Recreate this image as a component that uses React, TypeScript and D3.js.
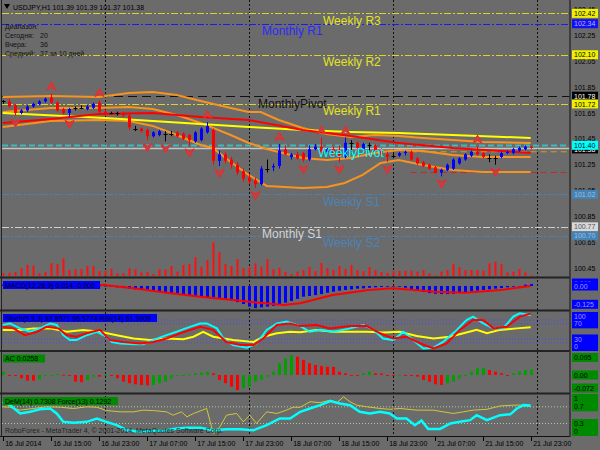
import * as d3 from 'd3'

// ---- time axis ----
const timeTicks: [number, string][] = [
  [0, '16 Jul 2014'], [8, '16 Jul 15:00'], [16, '16 Jul 23:00'], [24, '17 Jul 07:00'],
  [32, '17 Jul 15:00'], [40, '17 Jul 23:00'], [48, '18 Jul 07:00'], [56, '18 Jul 15:00'],
  [64, '18 Jul 23:00'], [72, '21 Jul 07:00'], [80, '21 Jul 15:00'], [88, '21 Jul 23:00'],
]
const daySeparators = [17, 41, 65, 89]
const priceTicks = [102.45, 102.25, 102.05, 101.85, 101.65, 101.45, 101.25, 101.05, 100.85, 100.65, 100.45]

// ---- USDJPY H1 candles ----
const open = [
  101.74, 101.74, 101.71, 101.65, 101.67, 101.70, 101.72, 101.74, 101.77, 101.73,
  101.68, 101.65, 101.69, 101.69, 101.68, 101.69, 101.73, 101.66, 101.65, 101.65,
  101.65, 101.63, 101.53, 101.53, 101.52, 101.47, 101.48, 101.49, 101.49, 101.50,
  101.49, 101.48, 101.43, 101.44, 101.50, 101.52, 101.28, 101.33, 101.29, 101.25,
  101.20, 101.15, 101.13, 101.10, 101.22, 101.23, 101.24, 101.37, 101.31, 101.33,
  101.34, 101.29, 101.37, 101.39, 101.35, 101.37, 101.34, 101.31, 101.42, 101.42,
  101.37, 101.40, 101.40, 101.36, 101.33, 101.32, 101.32, 101.34, 101.35, 101.30,
  101.27, 101.25, 101.23, 101.19, 101.21, 101.22, 101.26, 101.29, 101.32, 101.35,
  101.34, 101.30, 101.30, 101.31, 101.34, 101.34, 101.36, 101.37, 101.39,
]
const high = [
  101.75, 101.76, 101.72, 101.68, 101.71, 101.73, 101.75, 101.77, 101.80, 101.74,
  101.69, 101.69, 101.70, 101.71, 101.71, 101.73, 101.75, 101.67, 101.66, 101.66,
  101.66, 101.64, 101.55, 101.54, 101.53, 101.51, 101.52, 101.51, 101.51, 101.51,
  101.50, 101.49, 101.51, 101.54, 101.58, 101.53, 101.36, 101.35, 101.31, 101.27,
  101.22, 101.18, 101.15, 101.24, 101.29, 101.26, 101.41, 101.40, 101.34, 101.35,
  101.35, 101.40, 101.41, 101.46, 101.38, 101.39, 101.40, 101.46, 101.44, 101.43,
  101.42, 101.42, 101.41, 101.38, 101.35, 101.34, 101.35, 101.36, 101.36, 101.31,
  101.28, 101.26, 101.24, 101.22, 101.26, 101.30, 101.31, 101.34, 101.36, 101.39,
  101.35, 101.33, 101.32, 101.35, 101.36, 101.38, 101.39, 101.40, 101.39,
]
const low = [
  101.72, 101.69, 101.63, 101.64, 101.66, 101.69, 101.71, 101.73, 101.72, 101.66,
  101.64, 101.62, 101.67, 101.68, 101.67, 101.68, 101.65, 101.63, 101.64, 101.63,
  101.62, 101.52, 101.51, 101.50, 101.44, 101.46, 101.47, 101.43, 101.47, 101.46,
  101.44, 101.40, 101.42, 101.43, 101.49, 101.25, 101.24, 101.26, 101.22, 101.17,
  101.12, 101.10, 101.07, 101.09, 101.19, 101.20, 101.22, 101.32, 101.29, 101.29,
  101.27, 101.28, 101.36, 101.34, 101.33, 101.33, 101.27, 101.30, 101.35, 101.37,
  101.36, 101.36, 101.35, 101.32, 101.27, 101.30, 101.31, 101.32, 101.28, 101.25,
  101.23, 101.21, 101.18, 101.16, 101.20, 101.21, 101.25, 101.28, 101.31, 101.32,
  101.30, 101.27, 101.25, 101.30, 101.33, 101.33, 101.35, 101.36, 101.37,
]
const close = [
  101.74, 101.70, 101.65, 101.67, 101.70, 101.72, 101.74, 101.76, 101.73, 101.67,
  101.65, 101.68, 101.69, 101.69, 101.70, 101.72, 101.66, 101.64, 101.65, 101.65,
  101.63, 101.54, 101.53, 101.51, 101.47, 101.50, 101.51, 101.49, 101.49, 101.47,
  101.45, 101.44, 101.50, 101.53, 101.55, 101.28, 101.33, 101.28, 101.25, 101.19,
  101.14, 101.12, 101.10, 101.22, 101.22, 101.24, 101.36, 101.33, 101.33, 101.30,
  101.29, 101.37, 101.39, 101.35, 101.37, 101.34, 101.31, 101.42, 101.42, 101.38,
  101.41, 101.40, 101.36, 101.33, 101.31, 101.32, 101.34, 101.35, 101.29, 101.26,
  101.24, 101.22, 101.19, 101.21, 101.25, 101.29, 101.30, 101.33, 101.35, 101.33,
  101.31, 101.30, 101.30, 101.34, 101.35, 101.37, 101.38, 101.39, 101.38,
]
const tickVolume = [
  270, 330, 430, 770, 1100, 1030, 270, 430, 1270, 1200,
  1770, 600, 670, 670, 1000, 1000, 500, 500, 730, 270,
  270, 770, 670, 370, 430, 200, 670, 670, 1000, 430,
  1100, 1200, 1870, 930, 1600, 3370, 2400, 1200, 1000, 1670,
  770, 870, 1270, 930, 1670, 670, 830, 430, 200, 430,
  600, 900, 500, 1300, 800, 600, 1000, 700, 1100, 600,
  500, 900, 600, 400, 300, 500, 500, 530, 530, 430,
  600, 270, 100, 430, 600, 1200, 870, 600, 600, 600,
  530, 1270, 1430, 1170, 370, 430, 700, 370, 100,
]
const upFractals = [8, 16, 34, 46, 53, 57, 79]
const downFractals = [2, 11, 24, 27, 31, 36, 42, 50, 56, 64, 73, 82]

// ---- main chart indicator lines [bar, price] ----
const yellowMA = [[0, 101.650], [17, 101.611], [33, 101.565], [41, 101.542], [50, 101.519], [58, 101.503], [66, 101.495], [75, 101.480], [88, 101.457]]
const redMA = [[0, 101.573], [8, 101.604], [16, 101.642], [25, 101.650], [33, 101.619], [41, 101.596], [50, 101.519], [58, 101.472], [66, 101.418], [75, 101.380], [88, 101.341]]
const bandUpper = [[0, 101.773], [8, 101.781], [16, 101.773], [21, 101.804], [25, 101.812], [29, 101.789], [33, 101.742], [38, 101.688], [41, 101.657], [43, 101.657], [46, 101.596], [50, 101.534], [54, 101.488], [58, 101.465], [62, 101.480], [66, 101.472], [70, 101.457], [75, 101.441], [80, 101.426], [88, 101.418]]
const bandMiddle = [[0, 101.657], [8, 101.688], [16, 101.688], [21, 101.696], [25, 101.681], [29, 101.634], [33, 101.573], [38, 101.480], [41, 101.418], [44, 101.372], [50, 101.302], [54, 101.287], [58, 101.302], [62, 101.341], [66, 101.364], [70, 101.356], [75, 101.325], [80, 101.310], [88, 101.310]]
const bandLower = [[0, 101.542], [8, 101.588], [16, 101.596], [21, 101.588], [25, 101.550], [29, 101.480], [33, 101.403], [35, 101.380], [38, 101.271], [41, 101.171], [44, 101.086], [50, 101.071], [54, 101.078], [57, 101.109], [60, 101.171], [63, 101.264], [66, 101.287], [70, 101.248], [75, 101.210], [80, 101.194], [88, 101.194]]

// ---- pivot levels ----
const pivotNames = ['Weekly R3', 'Monthly R1', 'Weekly R2', 'MonthlyPivot', 'Weekly R1', 'WeeklyPivot', 'Weekly S1', 'Monthly S1', 'Weekly S2']
const pivotPrices = [102.42, 102.34, 102.10, 101.78, 101.72, 101.40, 101.02, 100.77, 100.70]
const dayLevels = [101.35, 101.19]
const dayLevelStart = 68
const bid = 101.38

// ---- MACD(12,26,9) ----
const macdMain = [
  0.010, 0.011, 0.010, 0.009, 0.009, 0.010, 0.010, 0.011, 0.011, 0.010,
  0.008, 0.007, 0.006, 0.005, 0.004, 0.002, -0.001, -0.003, -0.005, -0.009,
  -0.014, -0.018, -0.023, -0.027, -0.032, -0.036, -0.041, -0.046, -0.050, -0.055,
  -0.059, -0.064, -0.068, -0.073, -0.077, -0.082, -0.087, -0.091, -0.100, -0.110,
  -0.123, -0.141, -0.151, -0.146, -0.141, -0.135, -0.125, -0.114, -0.102, -0.088,
  -0.073, -0.068, -0.062, -0.055, -0.046, -0.039, -0.032, -0.027, -0.023, -0.018,
  -0.016, -0.012, -0.009, -0.007, -0.005, -0.002, -0.005, -0.012, -0.021, -0.032,
  -0.041, -0.048, -0.053, -0.055, -0.055, -0.053, -0.048, -0.043, -0.036, -0.032,
  -0.027, -0.023, -0.018, -0.014, -0.009, -0.005, 0.000, 0.009, 0.014,
]
const macdSignal = [[0, 0.008], [8, 0.008], [16.8, 0.007], [21.8, -0.016], [27.3, -0.046], [32.9, -0.073], [38.4, -0.096], [41.2, -0.108], [46.8, -0.130], [49.6, -0.118], [55, -0.062], [61, -0.027], [65, -0.016], [72, -0.039], [77, -0.046], [83, -0.027], [88, 0.000]]
const macdTicks = [0.061, 0, -0.125]

// ---- Stochastic(5,3,3) and RSI(14) ----
const stochMain = [[0, 67], [1.2, 71], [2.9, 58], [4.6, 49], [6.2, 58], [7.9, 71], [9, 67], [10.1, 40], [11.2, 27], [12.3, 27], [14, 40], [15.7, 49], [17.3, 36], [18.2, 22], [19.6, 18], [21.8, 16], [23.4, 16], [25.7, 31], [27.3, 40], [29, 49], [31.2, 62], [32.9, 71], [34, 71], [35.7, 58], [36.8, 31], [38.4, 14], [40.7, 7], [42.3, 18], [44, 54], [45.7, 71], [47.3, 76], [49.6, 64], [51.2, 49], [52.9, 54], [55.1, 49], [57.9, 58], [60.1, 67], [61.8, 54], [63.4, 31], [65.1, 27], [66.8, 49], [68.4, 27], [70.1, 5], [71.8, 7], [73.4, 22], [75.7, 54], [77.3, 80], [78.4, 89], [80.1, 71], [81.8, 58], [83.4, 58], [85.1, 89], [86.2, 98], [88, 93]]
const stochSignal = [[0, 62], [1.8, 58], [3.7, 40], [5.7, 49], [7.3, 62], [9.3, 58], [10.7, 40], [12.3, 36], [14, 45], [16.2, 54], [17.9, 27], [20.1, 22], [22.9, 18], [25.1, 22], [27.3, 31], [29.6, 45], [32.9, 62], [35.1, 54], [37.3, 22], [39.6, 14], [41.8, 14], [43.4, 31], [45.7, 67], [47.9, 71], [49.6, 64], [52.3, 67], [54.5, 58], [57.9, 64], [60.7, 64], [62.9, 45], [65.1, 31], [67.3, 36], [69.6, 18], [71.8, 5], [74, 18], [76.2, 54], [78.4, 80], [80.1, 80], [81.8, 58], [84, 62], [86.2, 89], [88, 97]]
const rsi = [[0, 54], [2.9, 54], [5.1, 58], [7.9, 58], [10.7, 49], [13.4, 54], [16.2, 49], [19, 40], [21.8, 31], [24.6, 27], [27.3, 31], [30.1, 29], [31.8, 36], [33.4, 49], [35.1, 36], [38.4, 27], [41.8, 22], [43.4, 36], [45.7, 45], [47.9, 49], [49.6, 48], [52.3, 54], [55.1, 49], [57.9, 49], [60.7, 49], [63.4, 47], [66.2, 49], [69, 38], [71.8, 31], [74.5, 36], [76.8, 45], [79, 54], [80.7, 45], [82.9, 54], [85.7, 58], [88, 61]]
const stochLevels = [80, 70, 30, 20]
const stochTicks = [100, 70, 30, 0]

// ---- Accelerator Oscillator ----
const ac = [
  0.0157, -0.0014, -0.0033, -0.0157, -0.0271, -0.0276, -0.0205, -0.0033, 0, 0.0048,
  0.0014, -0.0048, -0.0319, -0.0348, -0.0238, -0.0071, -0.0081, -0.0014, -0.0048, -0.0157,
  -0.0319, -0.0395, -0.0443, -0.0476, -0.0490, -0.0476, -0.0395, -0.0319, -0.0157, -0.0048,
  0, 0.0033, 0.0081, 0.0110, 0.0157, 0.0081, -0.0238, -0.0395, -0.0557, -0.0720,
  -0.0633, -0.0557, -0.0319, -0.0238, -0.0081, 0.0157, 0.0557, 0.0795, 0.0950, 0.0871,
  0.0714, 0.0557, 0.0476, 0.0429, 0.0395, 0.0381, 0.0157, 0.0081, 0, -0.0014,
  0.0081, 0.0157, 0.0081, 0.0071, 0, -0.0014, 0.0014, -0.0014, -0.0024, -0.0081,
  -0.0238, -0.0319, -0.0443, -0.0476, -0.0395, -0.0319, -0.0157, -0.0033, 0.0157, 0.0319,
  0.0333, 0.0238, 0.0157, 0.0081, 0, 0.0081, 0.0157, 0.0238, 0.0258,
]
const acTicks = [0.095, 0, -0.072]

// ---- DeMarker(14) and Force(13) ----
const deMarker = [[0, 0.82], [1.2, 0.74], [2.9, 0.54], [4.6, 0.58], [6.2, 0.64], [7.9, 0.66], [9, 0.54], [10.1, 0.34], [11.8, 0.32], [14, 0.34], [15.7, 0.42], [17.3, 0.34], [19, 0.26], [20.7, 0.14], [22.9, 0.10], [25.1, 0.12], [27.3, 0.14], [29, 0.18], [30.7, 0.20], [32.9, 0.20], [35.1, 0.14], [37.3, 0.16], [39.6, 0.16], [41.8, 0.14], [44, 0.26], [46.2, 0.42], [47.9, 0.42], [49.6, 0.58], [51.2, 0.66], [52.9, 0.74], [54.6, 0.84], [56.2, 0.78], [57.9, 0.74], [59.5, 0.58], [61.2, 0.54], [62.9, 0.58], [64.5, 0.54], [65.7, 0.42], [67.3, 0.42], [68.7, 0.26], [69.8, 0.37], [70.9, 0.17], [72.9, 0.17], [74.6, 0.30], [76.2, 0.34], [77.9, 0.38], [79, 0.50], [80.7, 0.38], [82.9, 0.50], [84.6, 0.52], [85.7, 0.66], [86.8, 0.74], [88, 0.73]]
const force = [[0, 0.70], [1.2, 0.69], [2.9, 0.62], [5.1, 0.66], [7.3, 0.70], [9.6, 0.69], [11.8, 0.66], [14, 0.70], [15.7, 0.69], [17.3, 0.61], [19.6, 0.58], [21.8, 0.58], [23.4, 0.62], [25.1, 0.61], [27.3, 0.58], [28.4, 0.50], [29.8, 0.58], [30.7, 0.46], [31.8, 0.54], [34, 0.66], [35.1, 0.06], [36.2, 0.22], [37.3, 0.50], [39, 0.54], [40.1, 0.34], [41.2, 0.50], [42.3, 0.30], [44, 0.58], [45.7, 0.54], [47.3, 0.62], [48.4, 0.69], [49.6, 0.69], [51.2, 0.82], [52.9, 0.80], [54.6, 0.86], [55.7, 0.80], [56.8, 0.94], [57.9, 0.82], [59, 0.74], [60.7, 0.70], [62.9, 0.66], [64.5, 0.64], [66.2, 0.66], [69, 0.62], [71.8, 0.62], [73.4, 0.58], [75.1, 0.54], [76.8, 0.58], [78.4, 0.62], [80.7, 0.64], [82.9, 0.72], [85.1, 0.74], [86.8, 0.74], [88, 0.70]]
const demLevels = [0.7, 0.3]
const demTicks = [1, 0.7, 0.3, 0]

const rangeLines = ['Диапазон:', 'Сегодня:', 'Вчера:', 'Средний:']
const rangeValues = ['', '20', '36', '37 за 10 дней']

// ---- layout ----
const W = 600
const H = 450
const RIGHT = 569.5
const FONT = '"Liberation Sans", Arial, sans-serif'
const BG = '#6b6b6b'

const x = d3.scaleLinear().domain([0, 89]).range([2.7, 536.7])
const yMain = d3.scaleLinear().domain([100.39, 102.5]).range([276, 3])
const yVol = d3.scaleLinear().domain([0, 10000]).range([276, 176])
const yMacd = d3.scaleLinear().domain([-0.164, 0.048]).range([310, 279])
const yStoch = d3.scaleLinear().domain([0, 100]).range([350.3, 312.5])
const yAc = d3.scaleLinear().domain([-0.072, 0.095]).range([390.1, 355])
const yDem = d3.scaleLinear().domain([0, 1]).range([436, 394.3])

const pivotStyle: Record<string, { stroke: string; dash: string; w: number; text: string; box: string; boxText: string; tx: number }> = {
  'Weekly R3': { stroke: '#d8d820', dash: '7 2 2 2', w: 1, text: '#e4e41c', box: '#f0f000', boxText: '#000', tx: 323 },
  'Monthly R1': { stroke: '#1a1aff', dash: '7 2 2 2', w: 1, text: '#2a2aff', box: '#1010f0', boxText: '#b8b8ff', tx: 262 },
  'Weekly R2': { stroke: '#d8d820', dash: '7 2 2 2', w: 1, text: '#e4e41c', box: '#f0f000', boxText: '#000', tx: 323 },
  MonthlyPivot: { stroke: '#111', dash: '9 5', w: 1, text: '#111', box: '#000', boxText: '#fff', tx: 258 },
  'Weekly R1': { stroke: '#d8d820', dash: '7 2 2 2', w: 1, text: '#e4e41c', box: '#f0f000', boxText: '#000', tx: 323 },
  WeeklyPivot: { stroke: '#3cbcbc', dash: '6 3', w: 2, text: '#00ffff', box: '#00ffff', boxText: '#000', tx: 318 },
  'Weekly S1': { stroke: '#4682b4', dash: '7 2 2 2', w: 1, text: '#4a84b8', box: '#4682b4', boxText: '#9cc0e0', tx: 323 },
  'Monthly S1': { stroke: '#cfcfcf', dash: '7 2 2 2', w: 1, text: '#d4d4d4', box: '#d8d8d8', boxText: '#555', tx: 262 },
  'Weekly S2': { stroke: '#4682b4', dash: '7 2 2 2', w: 1, text: '#4a84b8', box: '#4682b4', boxText: '#9cc0e0', tx: 323 },
}

const pairLine = (scale: d3.ScaleLinear<number, number>) =>
  d3.line<number[]>().x((d) => x(d[0])).y((d) => scale(d[1]))

const px = (i: number) => Math.round(x(i)) + 0.5

const clamp = (v: number, lo: number, hi: number) => Math.max(lo, Math.min(hi, v))

function SideLabel({ y, text, fill, color }: { y: number; text: string; fill: string; color: string }) {
  return (
    <g>
      <rect x={572} y={y - 4.5} width={26} height={9} fill={fill} />
      <text x={574} y={y + 2.6} fontSize={7} fill={color} fontFamily={FONT}>{text}</text>
    </g>
  )
}

function PanelTitle({ y, w, fill, text }: { y: number; w: number; fill: string; text: string }) {
  return (
    <g>
      <rect x={3} y={y} width={w} height={8} fill={fill} />
      <text x={5} y={y + 6.5} fontSize={7} fill="#000" fontFamily={FONT}>{text}</text>
    </g>
  )
}

export default function App() {
  const mainLine = pairLine(yMain)
  const arrowUp = (cx: number, cy: number) => `M${cx},${cy - 4.5}L${cx + 4.5},${cy + 3.5}L${cx},${cy + 1}L${cx - 4.5},${cy + 3.5}Z`
  const arrowDown = (cx: number, cy: number) => `M${cx},${cy + 4.5}L${cx + 4.5},${cy - 3.5}L${cx},${cy - 1}L${cx - 4.5},${cy - 3.5}Z`

  return (
    <svg width={W} height={H} style={{ position: 'fixed', left: 0, top: 0, display: 'block' }} fontFamily={FONT}>
      <rect width={W} height={H} fill={BG} />

      {/* period separators */}
      {daySeparators.map((d) => (
        <line key={d} x1={px(d)} x2={px(d)} y1={0} y2={436} stroke="#111" strokeDasharray="2 2" />
      ))}

      {/* pivot lines */}
      {pivotNames.map((n, i) => {
        const s = pivotStyle[n]
        const y = Math.round(yMain(pivotPrices[i])) + 0.5
        return <line key={n} x1={2} x2={RIGHT} y1={y} y2={y} stroke={s.stroke} strokeWidth={s.w} strokeDasharray={s.dash} />
      })}
      <line x1={2} x2={RIGHT} y1={Math.round(yMain(bid)) + 0.5} y2={Math.round(yMain(bid)) + 0.5} stroke="#c4c4c4" strokeWidth={1.5} />
      {dayLevels.map((p, i) => (
        <line key={p} x1={x(dayLevelStart)} x2={RIGHT} y1={yMain(p)} y2={yMain(p)}
          stroke={i === 0 ? '#d4a20a' : '#c82828'} strokeWidth={1} strokeDasharray="6 4" />
      ))}

      {/* volumes */}
      {tickVolume.map((v, i) => (
        <rect key={i} x={Math.round(x(i)) - 0.5} y={yVol(v)} width={2} height={yVol(0) - yVol(v)} fill="#ff1010" />
      ))}

      {/* bands and moving averages */}
      <path d={mainLine(bandUpper) || ''} fill="none" stroke="#f7931e" strokeWidth={2} />
      <path d={mainLine(bandMiddle) || ''} fill="none" stroke="#f7931e" strokeWidth={2} />
      <path d={mainLine(bandLower) || ''} fill="none" stroke="#f7931e" strokeWidth={2} />
      <path d={mainLine(yellowMA) || ''} fill="none" stroke="#ffff00" strokeWidth={2} />
      <path d={mainLine(redMA) || ''} fill="none" stroke="#ff0000" strokeWidth={2} />

      {/* candles */}
      {open.map((o, i) => {
        const c = close[i]
        const cx = px(i)
        const color = c > o ? '#0000ff' : c < o ? '#ff0000' : '#000000'
        const top = yMain(Math.max(o, c))
        const bot = yMain(Math.min(o, c))
        return (
          <g key={i}>
            <line x1={cx} x2={cx} y1={yMain(high[i])} y2={yMain(low[i])} stroke={color} strokeWidth={1} />
            {c === o ? (
              <line x1={cx - 2} x2={cx + 2} y1={Math.round(top) + 0.5} y2={Math.round(top) + 0.5} stroke={color} />
            ) : (
              <rect x={cx - 1.5} y={top} width={3} height={Math.max(1, bot - top)} fill={color} />
            )}
          </g>
        )
      })}

      {/* fractals */}
      {upFractals.map((i) => (
        <path key={'u' + i} d={arrowUp(px(i), yMain(high[i]) - 7)} fill="#b84848" stroke="#ff2020" strokeWidth={1} />
      ))}
      {downFractals.map((i) => (
        <path key={'d' + i} d={arrowDown(px(i), yMain(low[i]) + 7)} fill="#b84848" stroke="#ff2020" strokeWidth={1} />
      ))}

      {/* pivot captions */}
      {pivotNames.map((n, i) => (
        <text key={n} x={pivotStyle[n].tx} y={yMain(pivotPrices[i]) + 11.5} fontSize={12} fill={pivotStyle[n].text}>{n}</text>
      ))}

      {/* header */}
      <path d="M4,4L10,4L7,9Z" fill="#000" />
      <text x={13} y={9.5} fontSize={7} fill="#000">USDJPY,H1  101.39 101.39 101.37 101.38</text>
      {rangeLines.map((t, i) => (
        <g key={t}>
          <text x={5} y={28.5 + i * 9} fontSize={7} fill="#111">{t}</text>
          <text x={40} y={28.5 + i * 9} fontSize={7} fill="#111">{rangeValues[i]}</text>
        </g>
      ))}

      {/* MACD */}
      {macdMain.map((v, i) => (
        <rect key={i} x={px(i) - 1.5} y={Math.min(yMacd(v), yMacd(0))} width={3} height={Math.max(0.5, Math.abs(yMacd(v) - yMacd(0)))} fill="#0000ff" />
      ))}
      <path d={pairLine(yMacd)(macdSignal) || ''} fill="none" stroke="#ff0000" strokeWidth={2} />
      <PanelTitle y={281} w={97} fill="#0000ff" text="MACD(12,26,9) 0.014 -0.000" />

      {/* Stoch + RSI */}
      {stochLevels.map((l) => (
        <line key={l} x1={2} x2={RIGHT} y1={yStoch(l)} y2={yStoch(l)} stroke="#4a4aff" strokeDasharray="1 2" />
      ))}
      <path d={pairLine(yStoch)(rsi) || ''} fill="none" stroke="#ffff00" strokeWidth={2} />
      <path d={pairLine(yStoch)(stochMain) || ''} fill="none" stroke="#00ffff" strokeWidth={2} />
      <path d={pairLine(yStoch)(stochSignal) || ''} fill="none" stroke="#ff0000" strokeWidth={2} />
      <PanelTitle y={314} w={154} fill="#0000ff" text="Stoch(5,3,3) 92.8571 96.5774  RSI(14) 61.3909" />

      {/* AC */}
      {ac.map((v, i) => {
        const up = i === 0 ? v >= 0 : v > ac[i - 1]
        return (
          <rect key={i} x={px(i) - 1.5} y={Math.min(yAc(v), yAc(0))} width={3}
            height={Math.max(1, Math.abs(yAc(v) - yAc(0)))} fill={up ? '#00a000' : '#ff0000'} />
        )
      })}
      <PanelTitle y={354.5} w={42} fill="#008a00" text="AC 0.0258" />

      {/* DeMarker + Force */}
      {demLevels.map((l) => (
        <line key={l} x1={2} x2={RIGHT} y1={yDem(l)} y2={yDem(l)} stroke="#a8cca0" strokeDasharray="1 2" />
      ))}
      <path d={pairLine(yDem)(force) || ''} fill="none" stroke="#d0c83a" strokeWidth={1} />
      <path d={pairLine(yDem)(deMarker) || ''} fill="none" stroke="#00ffff" strokeWidth={2.5} />
      <PanelTitle y={397} w={115} fill="#008a00" text="DeM(14) 0.7308  Force(13) 0.1292" />
      <text x={5} y={432.5} fontSize={7} fill="#222">RoboForex - MetaTrader 4, © 2001-2014, MetaQuotes Software Corp.</text>

      {/* window frames */}
      {[277.5, 310.5, 351, 393.5].map((y) => (
        <rect key={y} x={0} y={y - 1} width={RIGHT} height={2} fill="#222" />
      ))}
      <line x1={0} x2={RIGHT} y1={436.5} y2={436.5} stroke="#111" />
      <line x1={1.5} x2={1.5} y1={0} y2={437} stroke="#222" />
      <line x1={RIGHT + 0.5} x2={RIGHT + 0.5} y1={0} y2={437} stroke="#111" />

      {/* price axis */}
      {priceTicks.map((p) => (
        <text key={p} x={574} y={yMain(p) + 2.6} fontSize={7} fill="#000">{p.toFixed(2)}</text>
      ))}
      <SideLabel y={yMain(bid) + 1} text={bid.toFixed(2)} fill="#000" color="#fff" />
      {pivotNames.map((n, i) => (
        <SideLabel key={n} y={yMain(pivotPrices[i])} text={pivotPrices[i].toFixed(2)} fill={pivotStyle[n].box} color={pivotStyle[n].boxText} />
      ))}

      {/* sub window scales */}
      {macdTicks.map((v) => (
        <SideLabel key={v} y={clamp(yMacd(v), 283, 306)} text={v === 0 ? '0.00' : String(v)} fill="#0000ff" color="#9a9aff" />
      ))}
      {stochTicks.map((v) => (
        <SideLabel key={v} y={clamp(yStoch(v), 316.5, 346.5)} text={String(v)} fill="#0000ff" color="#9a9aff" />
      ))}
      {acTicks.map((v) => (
        <SideLabel key={v} y={clamp(yAc(v), 357.5, 388)} text={v === 0 ? '0.00' : String(v)} fill="#008a00" color="#000" />
      ))}
      {demTicks.map((v) => (
        <SideLabel key={v} y={clamp(yDem(v), 398.5, 431.5)} text={String(v)} fill="#008a00" color="#000" />
      ))}

      {/* time axis */}
      {timeTicks.map(([i, t]) => (
        <g key={t}>
          <line x1={px(i)} x2={px(i)} y1={437} y2={441} stroke="#000" />
          <text x={x(i) + 2.5} y={446} fontSize={7} fill="#000">{t}</text>
        </g>
      ))}
    </svg>
  )
}
